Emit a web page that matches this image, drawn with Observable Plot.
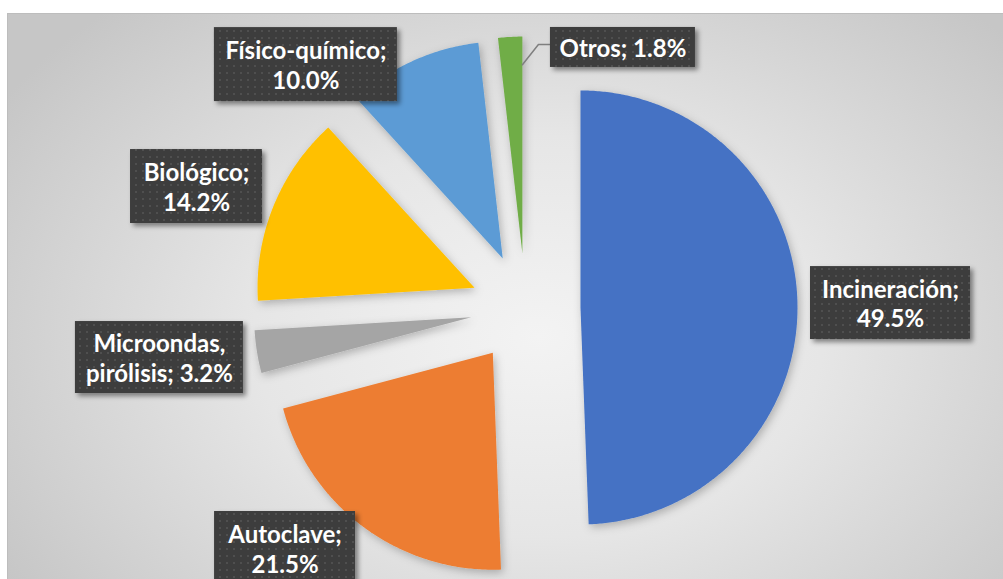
<!DOCTYPE html>
<html><head><meta charset="utf-8">
<script src="https://cdn.jsdelivr.net/npm/d3@7"></script>
<script src="https://cdn.jsdelivr.net/npm/@observablehq/plot@0.6"></script>
<style>
html,body{margin:0;padding:0;background:#fff;}
#wrap{position:relative;width:1003px;height:579px;overflow:hidden;}
#bg{position:absolute;left:7px;top:13px;width:1020px;height:620px;border-top:1px solid #bdbdbd;border-left:1px solid #bdbdbd;
 background:radial-gradient(ellipse 62% 72% at 52% 52%, #f3f3f3 0%, #e6e6e6 45%, #c6c6c6 100%);}
#chart{position:absolute;left:0;top:0;}
</style></head><body>
<div id="wrap"><div id="bg"></div><div id="chart"></div></div>
<script>
// ---- data ----
const categories = ["Incineración", "Autoclave", "Microondas, pirólisis", "Biológico", "Físico-químico", "Otros"];
const shares = [49.5, 21.5, 3.2, 14.2, 10.0, 1.8];
const colors = ["#4472C4", "#ED7D31", "#A5A5A5", "#FFC000", "#5B9BD5", "#70AD47"];

// ---- layout (pie radius units; pie centre = 0,0) ----
const W = 1003, H = 579;
const R = 217;            // radius in px
const CX = 525, CY = 308; // pie centre in px
const explode = 55 / R;   // explosion offset in radius units
const labelLayout = [
  {x: 1.682, y: 0.025, w: 160, h: 73},
  {x: -1.108, y: -1.106, w: 141, h: 74},
  {x: -1.687, y: -0.226, w: 168, h: 72},
  {x: -1.516, y: 0.562, w: 132, h: 74},
  {x: -1.012, y: 1.124, w: 183, h: 74},
  {x: 0.449, y: 1.203, w: 145, h: 40}
];

const rows = categories.map((c, i) => ({cat: c, v: shares[i]}));
const arcs = d3.pie().sort(null).value(d => d.v)(rows);

// slice polygons
const slicePts = [];
arcs.forEach(a => {
  const mid = (a.startAngle + a.endAngle) / 2;
  const ox = explode * Math.sin(mid), oy = explode * Math.cos(mid);
  slicePts.push({cat: a.data.cat, x: ox, y: oy});
  const n = Math.max(4, Math.ceil((a.endAngle - a.startAngle) / (Math.PI / 360)));
  for (let k = 0; k <= n; k++) {
    const t = a.startAngle + (a.endAngle - a.startAngle) * k / n;
    slicePts.push({cat: a.data.cat, x: ox + Math.sin(t), y: oy + Math.cos(t)});
  }
  slicePts.push({cat: a.data.cat, x: ox, y: oy});
});

// labels
const labels = arcs.map((a, i) => {
  const L = labelLayout[i];
  const pct = a.data.v.toFixed(1) + "%";
  let text;
  if (a.data.cat === "Otros") text = `${a.data.cat}; ${pct}`;
  else if (a.data.cat.includes(", ")) text = a.data.cat.replace(", ", ",\n") + "; " + pct;
  else text = `${a.data.cat};\n${pct}`;
  return {cat: a.data.cat, text, x: L.x, y: L.y, x1: L.x - L.w / 2 / R, x2: L.x + L.w / 2 / R, y1: L.y - L.h / 2 / R, y2: L.y + L.h / 2 / R};
});

// leader line for Otros
const oArc = arcs[arcs.length - 1];
const oMid = (oArc.startAngle + oArc.endAngle) / 2;
const oLab = labels[labels.length - 1];
const leader = [
  {x: oLab.x1, y: oLab.y + 3 / R},
  {x: oLab.x1 - 12 / R, y: oLab.y + 3 / R},
  {x: explode * Math.sin(oMid) + 0.87 * Math.sin(oArc.endAngle), y: explode * Math.cos(oMid) + 0.87 * Math.cos(oArc.endAngle)}
];

const svg = Plot.plot({
  width: W, height: H, margin: 0,
  style: {background: "transparent", overflow: "visible"},
  x: {domain: [-CX / R, (W - CX) / R], axis: null},
  y: {domain: [(CY - H) / R, CY / R], axis: null},
  color: {domain: categories, range: colors},
  marks: [
    Plot.line(slicePts, {x: "x", y: "y", z: "cat", fill: "cat", stroke: "none", curve: "linear", ariaDescription: "slices"}),
    Plot.line(leader, {x: "x", y: "y", stroke: "#7f7f7f", strokeWidth: 1.5}),
    Plot.rect(labels, {x1: "x1", x2: "x2", y1: "y1", y2: "y2", fill: "url(#tex)", ariaDescription: "boxes"}),
    Plot.text(labels, {x: "x", y: "y", text: "text", fill: "white", fontSize: 24, fontWeight: 700, fontFamily: "Lato, 'Open Sans', sans-serif", lineHeight: 1.22, textAnchor: "middle"})
  ]
});

const s = d3.select(svg);
const defs = s.insert("defs", ":first-child");
const pat = defs.append("pattern").attr("id", "tex").attr("width", 7).attr("height", 7).attr("patternUnits", "userSpaceOnUse");
pat.append("rect").attr("width", 7).attr("height", 7).attr("fill", "#3c3c3c");
pat.append("rect").attr("x", 2).attr("y", 2).attr("width", 2).attr("height", 2).attr("fill", "#505050");
const f1 = defs.append("filter").attr("id", "sh").attr("x", "-20%").attr("y", "-20%").attr("width", "140%").attr("height", "140%");
f1.append("feDropShadow").attr("dx", 3).attr("dy", 3).attr("stdDeviation", 2.5).attr("flood-color", "#000").attr("flood-opacity", 0.45);
const f2 = defs.append("filter").attr("id", "sh2").attr("x", "-20%").attr("y", "-20%").attr("width", "140%").attr("height", "140%");
f2.append("feDropShadow").attr("dx", 2).attr("dy", 3).attr("stdDeviation", 4).attr("flood-color", "#000").attr("flood-opacity", 0.25);
s.selectAll('g[aria-description="boxes"]').attr("filter", "url(#sh)");
s.selectAll('g[aria-description="slices"]').attr("filter", "url(#sh2)");

document.getElementById("chart").appendChild(svg);
</script>
</body></html>
